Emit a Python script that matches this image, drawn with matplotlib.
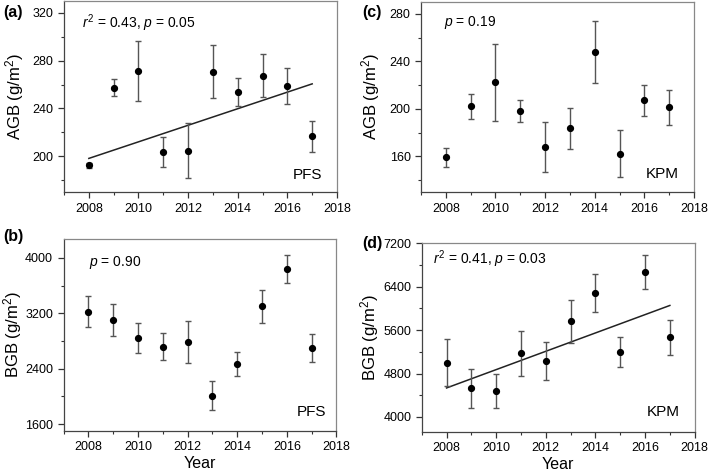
import matplotlib
matplotlib.use("Agg")
import matplotlib.pyplot as plt
from matplotlib.ticker import MultipleLocator

plt.rcParams['font.family'] = ['Liberation Sans', 'DejaVu Sans']
plt.rcParams['mathtext.fontset'] = 'custom'
plt.rcParams['mathtext.rm'] = 'Liberation Sans'
plt.rcParams['mathtext.it'] = 'Liberation Sans:italic'

years = [2008, 2009, 2010, 2011, 2012, 2013, 2014, 2015, 2016, 2017]

# (a) PFS AGB
agb_pfs = [192.4, 257.5, 271.5, 203.7, 204.8, 270.9, 253.8, 267.3, 258.9, 216.6]
agb_pfs_err = [2, 7, 25, 12.5, 23, 22, 12, 18, 15, 13]
agb_pfs_trend = [198.2, 260.6]

# (b) PFS BGB
bgb_pfs = [3226, 3105, 2841, 2716, 2783, 2009, 2461, 3303, 3836, 2697]
bgb_pfs_err = [228, 226, 214, 197, 303, 207, 173, 240, 202, 200]

# (c) KPM AGB
agb_kpm = [159.2, 202.3, 222.2, 198.1, 167.6, 183.6, 247.8, 162.3, 207.1, 201.2]
agb_kpm_err = [8, 10.5, 32.5, 9.5, 21, 17, 26, 20, 13, 15]

# (d) KPM BGB
bgb_kpm = [5003, 4529, 4480, 5175, 5028, 5766, 6283, 5206, 6671, 5465]
bgb_kpm_err = [437, 357, 308, 412, 348, 394, 354, 277, 305, 317]
bgb_kpm_trend = [4535, 6055]

trend_years = [2008, 2017]

W, H = 709, 472
fig = plt.figure(figsize=(7.09, 4.72), dpi=100)

panels = [
    dict(key='(a)', key_xy=(3, 13), rect=[0.0903, 0.593, 0.385, 0.405], y=agb_pfs, err=agb_pfs_err,
         trend=agb_pfs_trend, ylim=(170, 330), yt=[200, 240, 280, 320], ylab='AGB (g/m$^2$)',
         stat='$\\mathit{r}^2$ = 0.43, $\\mathit{p}$ = 0.05', stat_xy=(0.066, 0.885),
         site='PFS', site_xy=(0.945, 0.089), showx=False, ylab_x=-0.14),
    dict(key='(b)', key_xy=(3, 237), rect=[0.0896, 0.087, 0.385, 0.406], y=bgb_pfs, err=bgb_pfs_err,
         trend=None, ylim=(1500, 4270), yt=[1600, 2400, 3200, 4000], ylab='BGB (g/m$^2$)',
         stat='$\\mathit{p}$ = 0.90', stat_xy=(0.093, 0.878),
         site='PFS', site_xy=(0.962, 0.10), showx=True, ylab_x=-0.145),
    dict(key='(c)', key_xy=(362, 13), rect=[0.5938, 0.593, 0.385, 0.403], y=agb_kpm, err=agb_kpm_err,
         trend=None, ylim=(130, 290), yt=[160, 200, 240, 280], ylab='AGB (g/m$^2$)',
         stat='$\\mathit{p}$ = 0.19', stat_xy=(0.084, 0.89),
         site='KPM', site_xy=(0.945, 0.095), showx=False, ylab_x=-0.143),
    dict(key='(d)', key_xy=(362, 244), rect=[0.5948, 0.0855, 0.385, 0.399], y=bgb_kpm, err=bgb_kpm_err,
         trend=bgb_kpm_trend, ylim=(3730, 7200), yt=[4000, 4800, 5600, 6400, 7200], ylab='BGB (g/m$^2$)',
         stat='$\\mathit{r}^2$ = 0.41, $\\mathit{p}$ = 0.03', stat_xy=(0.041, 0.917),
         site='KPM', site_xy=(0.947, 0.106), showx=True, ylab_x=-0.149),
]

for p in panels:
    ax = fig.add_axes(p['rect'])
    ax.errorbar(years, p['y'], yerr=p['err'], fmt='o', color='black', markersize=4.2,
                ecolor='#555555', elinewidth=1.0, capsize=2.5, capthick=1.0, zorder=3)
    if p['trend'] is not None:
        ax.plot(trend_years, p['trend'], color='#222222', lw=1.1, zorder=2)
    ax.set_xlim(2007, 2018)
    ax.set_ylim(*p['ylim'])
    ax.set_xticks([2008, 2010, 2012, 2014, 2016, 2018])
    ax.xaxis.set_minor_locator(MultipleLocator(1))
    yt = p['yt']
    ax.set_yticks(yt)
    ax.yaxis.set_minor_locator(MultipleLocator((yt[1] - yt[0]) / 2))
    ax.tick_params(which='both', direction='out', colors='#333333', labelcolor='black',
                   labelsize=9, top=False, right=False)
    ax.tick_params(which='major', length=4, width=0.9)
    ax.tick_params(which='minor', length=2.5, width=0.8)
    for s in ['top', 'right']:
        ax.spines[s].set_color('#888888')
        ax.spines[s].set_linewidth(0.9)
    for s in ['left', 'bottom']:
        ax.spines[s].set_color('#444444')
        ax.spines[s].set_linewidth(0.9)
    ax.set_ylabel(p['ylab'], fontsize=12)
    ax.yaxis.set_label_coords(p['ylab_x'], 0.5)
    if p['showx']:
        ax.set_xlabel('Year', fontsize=11.5, labelpad=2)
    ax.text(p['stat_xy'][0], p['stat_xy'][1], p['stat'], transform=ax.transAxes,
            fontsize=10, va='center', ha='left')
    ax.text(p['site_xy'][0], p['site_xy'][1], p['site'], transform=ax.transAxes,
            fontsize=11, va='center', ha='right')
    kx, ky = p['key_xy']
    fig.text(kx / W, 1 - ky / H, p['key'], fontsize=11.5, fontweight='bold',
             va='center', ha='left')

fig.savefig('out.png', dpi=100)
